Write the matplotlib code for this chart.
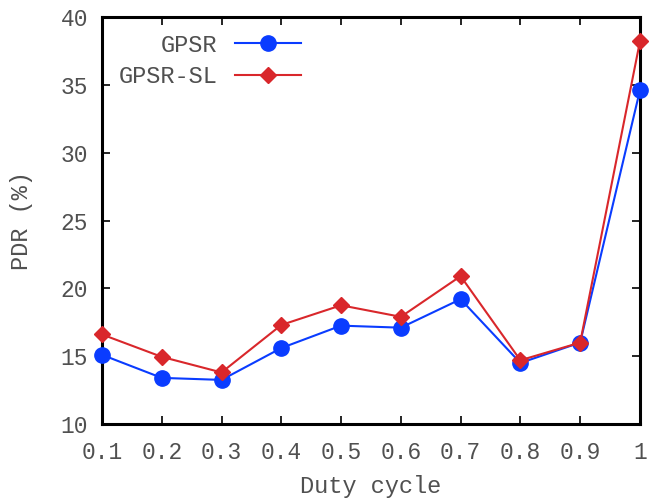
import matplotlib
matplotlib.use("Agg")
import matplotlib.pyplot as plt

duty = [0.1, 0.2, 0.3, 0.4, 0.5, 0.6, 0.7, 0.8, 0.9, 1.0]
gpsr = [15.1, 13.4, 13.25, 15.6, 17.25, 17.1, 19.2, 14.5, 16.0, 34.6]
gpsr_sl = [16.6, 14.95, 13.8, 17.3, 18.75, 17.9, 20.9, 14.7, 16.0, 38.2]
xticks = [0.1, 0.2, 0.3, 0.4, 0.5, 0.6, 0.7, 0.8, 0.9, 1.0]
xticklabels = ["0.1", "0.2", "0.3", "0.4", "0.5", "0.6", "0.7", "0.8", "0.9", "1"]
yticks = [10, 15, 20, 25, 30, 35, 40]

plt.rcParams['font.family'] = ['Liberation Mono', 'DejaVu Sans Mono']

fig = plt.figure(figsize=(6.55, 5.01), dpi=100)
ax = fig.add_axes([0.1557, 0.1537, 0.8213, 0.8123])

blue = '#0a3cff'
red = '#d9272b'
txt = '#505050'
ax.plot(duty, gpsr, color=blue, lw=1.5, marker='o', ms=11, label='GPSR', clip_on=False, zorder=3)
ax.plot(duty, gpsr_sl, color=red, lw=1.5, marker='D', ms=8, label='GPSR-SL', clip_on=False, zorder=4)

ax.set_xlim(0.1, 1.0)
ax.set_ylim(10, 40)
ax.set_xticks(xticks)
ax.set_xticklabels(xticklabels)
ax.set_yticks(yticks)
ax.tick_params(direction='in', length=6, width=1.2, top=True, right=True,
               labelsize=16.5, colors='black', labelcolor=txt)
ax.tick_params(axis='y', pad=10)
ax.tick_params(axis='x', pad=12)
for s in ax.spines.values():
    s.set_linewidth(2.2)
ax.set_xlabel('Duty cycle', fontsize=17, color=txt, labelpad=8)
ax.set_ylabel('PDR (%)', fontsize=17, color=txt, labelpad=20)

leg = ax.legend(loc='upper left', bbox_to_anchor=(0.0, 1.0), markerfirst=False,
                frameon=False, fontsize=17, handlelength=2.8, labelspacing=0.35,
                handletextpad=0.75, borderaxespad=0.3)
for t in leg.get_texts():
    t.set_color(txt)
    t.set_ha('right')

fig.savefig('out.png', dpi=100)
